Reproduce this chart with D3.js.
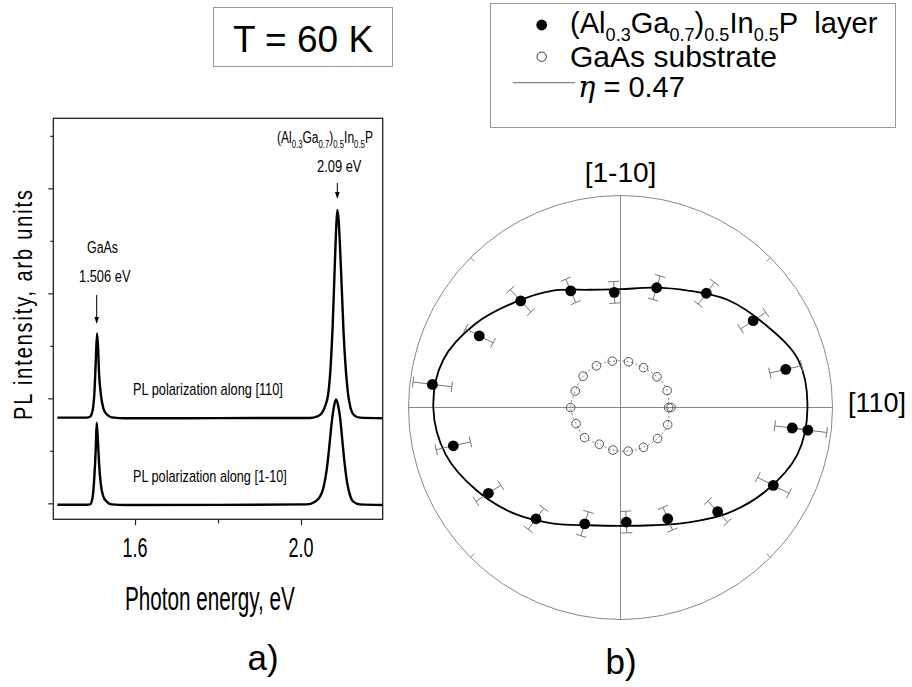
<!DOCTYPE html>
<html><head><meta charset="utf-8">
<script src="https://cdn.jsdelivr.net/npm/d3@7"></script>
<style>body{margin:0;background:#fff}svg{display:block}</style>
</head><body>
<svg id="c" width="912" height="687"></svg>
<script>
// ---------- DATA ----------
// (a) PL spectra: photon energy (eV) and intensity (arb. units)
const energyTop = [1.4129, 1.4835, 1.4916, 1.4980, 1.5020, 1.5052, 1.5084, 1.5108, 1.5133, 1.5173, 1.5237, 1.5317, 1.5438, 1.5799, 1.8000, 2.0217, 2.0378, 2.0498, 2.0578, 2.0659, 2.0715, 2.0763, 2.0803, 2.0843, 2.0876, 2.0908, 2.0948, 2.0988, 2.1028, 2.1076, 2.1133, 2.1197, 2.1277, 2.1422, 2.1968];
const intensityTop = [0.816, 0.816, 0.825, 0.889, 1.048, 1.333, 1.619, 1.492, 1.238, 1.048, 0.905, 0.848, 0.819, 0.810, 0.812, 0.813, 0.825, 0.857, 0.921, 1.048, 1.302, 1.683, 2.127, 2.571, 2.794, 2.698, 2.381, 2.000, 1.619, 1.302, 1.048, 0.905, 0.841, 0.816, 0.810];
const energyBottom = [1.4129, 1.4835, 1.4916, 1.4980, 1.5020, 1.5052, 1.5076, 1.5100, 1.5133, 1.5173, 1.5237, 1.5317, 1.5438, 1.5799, 1.8000, 2.0137, 2.0337, 2.0458, 2.0538, 2.0619, 2.0683, 2.0739, 2.0795, 2.0843, 2.0884, 2.0940, 2.0996, 2.1052, 2.1116, 2.1181, 2.1261, 2.1422, 2.1968];
const intensityBottom = [-0.013, -0.013, -0.010, 0.063, 0.254, 0.508, 0.768, 0.635, 0.381, 0.190, 0.063, 0.016, -0.010, -0.016, -0.015, -0.010, 0.016, 0.063, 0.143, 0.317, 0.540, 0.762, 0.921, 0.990, 0.952, 0.825, 0.603, 0.381, 0.190, 0.079, 0.016, -0.010, -0.016];
const xTicksMajor = [1.6, 2.0];
const xTicksMinor = [1.8];
const yTicksMajor = [0, 1, 2, 3];
const yTicksMinor = [0.5, 1.5, 2.5, 3.5];
const gaasPeak = 1.5076;
const algainpPeak = 2.0876;

// (b) polar plot: angle (deg), PL intensity (arb. units)
const layerAngles = [-6.9, 13.0, 33.2, 53.1, 73.2, 93.1, 113.1, 133.1, 153.1, 173.0, 192.9, 213.0, 232.8, 252.9, 272.9, 293.0, 313.0, 333.0, 353.2];
const layerValues = [89.0, 80.0, 74.8, 67.4, 59.0, 54.4, 59.8, 68.9, 74.7, 89.4, 80.9, 74.3, 65.9, 57.4, 54.1, 57.0, 67.2, 80.9, 81.6];
const layerErrors = [9.0, 7.7, 7.1, 6.4, 5.8, 5.1, 6.0, 7.2, 7.3, 9.2, 8.3, 7.0, 6.2, 5.9, 5.1, 5.8, 6.8, 8.3, 8.3];
const substrateAngles = [0, 20, 40, 60, 80, 100, 120, 140, 160, 180, 200, 220, 240, 260, 280, 300, 320, 340, 360];
const substrateValues = [22.7, 23.4, 22.5, 21.7, 21.9, 22.2, 22.7, 23.0, 22.7, 23.5, 22.3, 22.1, 20.0, 20.4, 20.9, 21.7, 22.8, 23.7, 23.8];
const fitAngles = [0, 15, 30, 45, 60, 75, 90, 105, 120, 135, 150, 165, 180, 195, 210, 225, 240, 255, 270, 285, 300, 315, 330, 345];
const fitValues = [88.2, 86.8, 78.6, 71.7, 63.7, 58.5, 55.8, 57.5, 63.7, 70.3, 79.0, 86.6, 88.3, 85.4, 78.3, 70.8, 63.2, 57.5, 55.8, 57.5, 62.7, 70.8, 79.0, 86.3];
const radialMax = 100;
const diagTicks = [45, 135, 225, 315];

// ---------- DRAW ----------
const svg = d3.select('#c');
const SANS = "'Liberation Sans', Arial, Helvetica, sans-serif";
const NARROW = "'Liberation Sans Narrow', 'Arial Narrow', 'Liberation Sans', Arial, sans-serif";

// text helper: segments [{t, sub}] scaled horizontally to width
function fitText(parent, o) {
  const g = parent.append('g');
  const t = g.append('text').attr('font-family', o.family || SANS)
    .attr('font-size', o.size).attr('fill', '#000')
    .attr('text-anchor', o.anchor || 'start');
  if (o.spacing) t.attr('letter-spacing', o.spacing);
  const segs = typeof o.text === 'string' ? [{t: o.text}] : o.text;
  let cur = 0;
  segs.forEach(s => {
    const sp = t.append('tspan').text(s.t);
    const target = s.sub ? o.subDy : 0;
    sp.attr('dy', target - cur); cur = target;
    if (s.sub) sp.attr('font-size', o.subSize);
    if (s.italic) sp.attr('font-style', 'italic').attr('font-family', s.family || o.family || SANS);
  });
  let sx = 1;
  if (o.width) { const w = t.node().getBBox().width; sx = o.width / w; }
  const rot = o.rotate ? ` rotate(${o.rotate})` : '';
  g.attr('transform', `translate(${o.x},${o.y})${rot} scale(${sx},1)`);
  return g;
}

// ===== Panel (a) =====
const x = d3.scaleLinear().domain([1.403, 2.197]).range([53.3, 382.7]);
const y = d3.scaleLinear().domain([-0.152, 3.667]).range([519.3, 118.3]);
const ga = svg.append('g');

ga.append('rect').attr('x', x.range()[0]).attr('y', y.range()[1])
  .attr('width', x.range()[1] - x.range()[0]).attr('height', y.range()[0] - y.range()[1])
  .attr('fill', 'none').attr('stroke', '#222').attr('stroke-width', 1.3);

function styleAxis(sel) {
  sel.select('.domain').remove();
  sel.selectAll('line').attr('stroke', '#222').attr('stroke-width', 1.2);
  sel.selectAll('text').remove();
}
ga.append('g').attr('transform', `translate(0,${y.range()[0]})`)
  .call(d3.axisBottom(x).tickValues(xTicksMajor).tickSize(6)).call(styleAxis);
ga.append('g').attr('transform', `translate(0,${y.range()[0]})`)
  .call(d3.axisBottom(x).tickValues(xTicksMinor).tickSize(4)).call(styleAxis);
ga.append('g').attr('transform', `translate(${x.range()[0]},0)`)
  .call(d3.axisLeft(y).tickValues(yTicksMajor).tickSize(5)).call(styleAxis);
ga.append('g').attr('transform', `translate(${x.range()[0]},0)`)
  .call(d3.axisLeft(y).tickValues(yTicksMinor).tickSize(3)).call(styleAxis);

xTicksMajor.forEach(v => fitText(ga, {text: d3.format('.1f')(v), x: x(v), y: 557, size: 27, family: NARROW, anchor: 'middle', width: 25}));

const line = d3.line().x(d => x(d[0])).y(d => y(d[1])).curve(d3.curveMonotoneX);
[[energyTop, intensityTop], [energyBottom, intensityBottom]].forEach(([e, v]) => {
  ga.append('path').attr('d', line(e.map((d, i) => [d, v[i]])))
    .attr('fill', 'none').attr('stroke', '#000').attr('stroke-width', 2.4).attr('stroke-linejoin', 'round');
});

function arrow(xp, y0, y1) {
  ga.append('line').attr('x1', xp).attr('x2', xp).attr('y1', y0).attr('y2', y1 - 5)
    .attr('stroke', '#000').attr('stroke-width', 1);
  ga.append('path').attr('d', `M${xp - 2.3},${y1 - 7}L${xp + 2.3},${y1 - 7}L${xp},${y1}Z`).attr('fill', '#000');
}
arrow(x(gaasPeak), 295, 324);
arrow(x(algainpPeak), 183, 199);

fitText(ga, {text: 'GaAs', x: 87, y: 253, size: 17, family: NARROW, width: 31});
fitText(ga, {text: '1.506 eV', x: 79, y: 282, size: 17, family: NARROW, width: 52});
fitText(ga, {text: [{t: '(Al'}, {t: '0.3', sub: 1}, {t: 'Ga'}, {t: '0.7', sub: 1}, {t: ')'}, {t: '0.5', sub: 1}, {t: 'In'}, {t: '0.5', sub: 1}, {t: 'P'}],
  x: 277, y: 143, size: 17, subSize: 11, subDy: 5, family: NARROW, width: 96});
fitText(ga, {text: '2.09 eV', x: 317, y: 172, size: 17, family: NARROW, width: 45});
fitText(ga, {text: 'PL polarization along [110]', x: 133, y: 395, size: 16, family: NARROW, width: 150});
fitText(ga, {text: 'PL polarization along [1-10]', x: 133, y: 482, size: 16, family: NARROW, width: 154});
fitText(ga, {text: 'Photon energy, eV', x: 125, y: 610, size: 34, family: NARROW, width: 170});
fitText(ga, {text: 'PL intensity, arb units', x: 31.5, y: 304, size: 26, anchor: 'middle', rotate: -90, spacing: 2.5, width: 232});

fitText(svg, {text: 'a)', x: 263, y: 670, size: 35, anchor: 'middle'});
fitText(svg, {text: 'b)', x: 621, y: 674, size: 35, anchor: 'middle'});

// T box
svg.append('rect').attr('x', 213.5).attr('y', 7.5).attr('width', 179).attr('height', 59)
  .attr('fill', 'none').attr('stroke', '#999').attr('stroke-width', 1);
fitText(svg, {text: 'T = 60 K', x: 303, y: 52, size: 37, anchor: 'middle'});

// ===== Panel (b) =====
const cx = 620.5, cy = 407.5;
const r = d3.scaleLinear().domain([0, radialMax]).range([0, 212]);
const gb = svg.append('g');
const pt = (a, v) => { const t = a * Math.PI / 180; return [cx + r(v) * Math.cos(t), cy - r(v) * Math.sin(t)]; };

gb.append('circle').attr('cx', cx).attr('cy', cy).attr('r', r(radialMax))
  .attr('fill', 'none').attr('stroke', '#888').attr('stroke-width', 1);
gb.append('line').attr('x1', cx - r(radialMax)).attr('x2', cx + r(radialMax)).attr('y1', cy).attr('y2', cy)
  .attr('stroke', '#888').attr('stroke-width', 1);
gb.append('line').attr('y1', cy - r(radialMax)).attr('y2', cy + r(radialMax)).attr('x1', cx).attr('x2', cx)
  .attr('stroke', '#888').attr('stroke-width', 1);
diagTicks.forEach(a => {
  const p0 = pt(a, radialMax), p1 = pt(a, radialMax * 0.975);
  gb.append('line').attr('x1', p0[0]).attr('y1', p0[1]).attr('x2', p1[0]).attr('y2', p1[1])
    .attr('stroke', '#888').attr('stroke-width', 1);
});

// substrate dotted line + open circles
const closed = d3.line().curve(d3.curveCatmullRomClosed);
gb.append('path').attr('d', closed(substrateAngles.filter(a => a < 360).map((a, i) => pt(a, substrateValues[i]))))
  .attr('fill', 'none').attr('stroke', '#777').attr('stroke-width', 0.9).attr('stroke-dasharray', '2,2.5');
gb.selectAll('.sub').data(substrateAngles).join('circle')
  .attr('cx', (a, i) => pt(a, substrateValues[i])[0]).attr('cy', (a, i) => pt(a, substrateValues[i])[1])
  .attr('r', 4.3).attr('fill', 'none').attr('stroke', '#555').attr('stroke-width', 1);

// fit curve
gb.append('path').attr('d', closed(fitAngles.map((a, i) => pt(a, fitValues[i]))))
  .attr('fill', 'none').attr('stroke', '#000').attr('stroke-width', 1.8);

// error bars (radial)
const cap = 5.5;
layerAngles.forEach((a, i) => {
  const t = a * Math.PI / 180, ux = Math.cos(t), uy = -Math.sin(t), px = -uy, py = ux;
  const p0 = pt(a, layerValues[i] - layerErrors[i]), p1 = pt(a, layerValues[i] + layerErrors[i]);
  let d = `M${p0[0]},${p0[1]}L${p1[0]},${p1[1]}`;
  [p0, p1].forEach(p => { d += `M${p[0] - px * cap},${p[1] - py * cap}L${p[0] + px * cap},${p[1] + py * cap}`; });
  gb.append('path').attr('d', d).attr('fill', 'none').attr('stroke', '#777').attr('stroke-width', 1);
});
gb.selectAll('.lay').data(layerAngles).join('circle')
  .attr('cx', (a, i) => pt(a, layerValues[i])[0]).attr('cy', (a, i) => pt(a, layerValues[i])[1])
  .attr('r', 5.4).attr('fill', '#000');

fitText(gb, {text: '[1-10]', x: cx, y: 182, size: 28, anchor: 'middle'});
fitText(gb, {text: '[110]', x: 848, y: 412, size: 27});

// legend
svg.append('rect').attr('x', 490.5).attr('y', 3.5).attr('width', 405).attr('height', 124)
  .attr('fill', 'none').attr('stroke', '#999').attr('stroke-width', 1);
svg.append('circle').attr('cx', 541.7).attr('cy', 25).attr('r', 5.4).attr('fill', '#000');
svg.append('circle').attr('cx', 541.7).attr('cy', 56.7).attr('r', 4.7).attr('fill', 'none').attr('stroke', '#333').attr('stroke-width', 1);
svg.append('line').attr('x1', 513).attr('x2', 575).attr('y1', 82.7).attr('y2', 82.7).attr('stroke', '#666').attr('stroke-width', 1);
fitText(svg, {text: [{t: '(Al'}, {t: '0.3', sub: 1}, {t: 'Ga'}, {t: '0.7', sub: 1}, {t: ')'}, {t: '0.5', sub: 1}, {t: 'In'}, {t: '0.5', sub: 1}, {t: 'P\u00a0\u00a0layer'}],
  x: 570, y: 33, size: 29, subSize: 18, subDy: 8, width: 308});
fitText(svg, {text: 'GaAs substrate', x: 570, y: 67, size: 29, width: 207});
fitText(svg, {text: [{t: 'η', italic: 1, family: "'DejaVu Serif', 'Liberation Serif', serif"}, {t: ' = 0.47'}], x: 578, y: 96.5, size: 29});
</script>
</body></html>
